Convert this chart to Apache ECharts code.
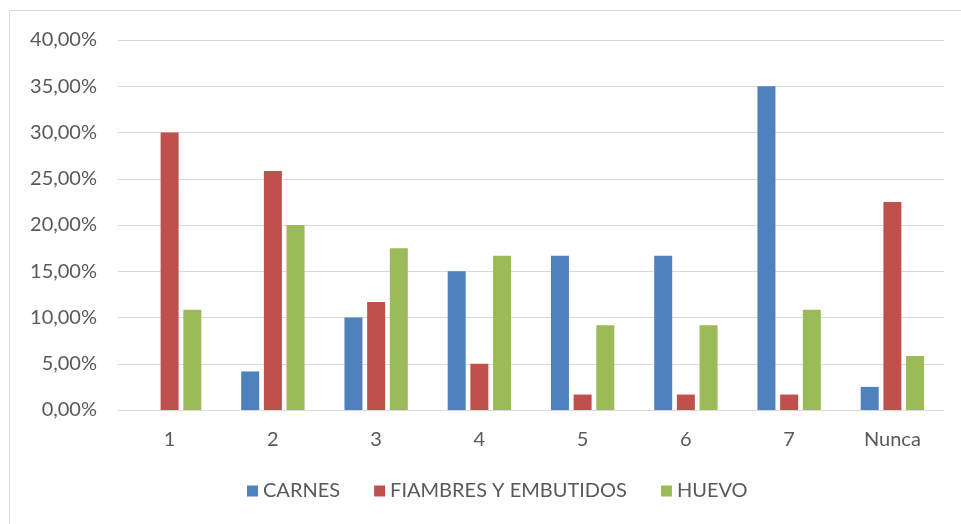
<!DOCTYPE html>
<html>
<head>
<meta charset="utf-8">
<script src="https://cdn.jsdelivr.net/npm/echarts@6/dist/echarts.min.js"></script>
<style>
  html, body { margin: 0; padding: 0; background: #fff; }
  #chart { width: 961px; height: 524px; }
</style>
</head>
<body>
<div id="chart"></div>
<script>
// Weekly frequency of consumption (days) per food group, as a share of respondents
const categories = ['1', '2', '3', '4', '5', '6', '7', 'Nunca'];
const carnes     = [0, 4.17, 10.0, 15.0, 16.67, 16.67, 35.0, 2.5];
const fiambres   = [30.0, 25.83, 11.67, 5.0, 1.67, 1.67, 1.67, 22.5];
const huevo      = [10.83, 20.0, 17.5, 16.67, 9.17, 9.17, 10.83, 5.83];
const seriesNames = ['CARNES', 'FIAMBRES Y EMBUTIDOS', 'HUEVO'];
const colors = ['#4F81BD', '#C0504D', '#9BBB59'];

const FONT = 'Lato, "Open Sans", sans-serif';
const TEXT = '#595959';

function pct(v) {
  return v.toFixed(2).replace('.', ',') + '%';
}

const chart = echarts.init(document.getElementById('chart'), null, { renderer: 'canvas' });

const values = [carnes, fiambres, huevo];

chart.setOption({
  backgroundColor: '#ffffff',
  animation: false,
  color: colors,
  textStyle: { fontFamily: FONT },
  graphic: [{
    type: 'rect',
    shape: { x: 9.5, y: 10.5, width: 1000, height: 600 },
    style: { fill: 'none', stroke: '#d9d9d9', lineWidth: 1 },
    silent: true
  }],
  grid: { left: 118, right: 17, top: 40, bottom: 114, containLabel: false },
  legend: {
    data: seriesNames,
    bottom: 18,
    left: 242,
    icon: 'rect',
    itemWidth: 11,
    itemHeight: 11,
    itemGap: 34,
    textStyle: { color: TEXT, fontSize: 20, fontFamily: FONT }
  },
  xAxis: {
    type: 'category',
    data: categories,
    axisLine: { show: true, lineStyle: { color: '#d9d9d9', width: 1 } },
    axisTick: { show: false },
    axisLabel: { color: TEXT, fontSize: 20, fontFamily: FONT, margin: 20 },
    splitLine: { show: false }
  },
  yAxis: {
    type: 'value',
    min: 0,
    max: 40,
    interval: 5,
    axisLine: { show: false },
    axisTick: { show: false },
    axisLabel: { color: TEXT, fontSize: 20, fontFamily: FONT, margin: 21, formatter: pct },
    splitLine: { lineStyle: { color: '#d9d9d9', width: 1 } }
  },
  series: seriesNames.map((name, i) => ({
    name: name,
    type: 'bar',
    data: values[i],
    barWidth: 18,
    barGap: '26%',
    itemStyle: { color: colors[i] }
  }))
});
</script>
</body>
</html>
